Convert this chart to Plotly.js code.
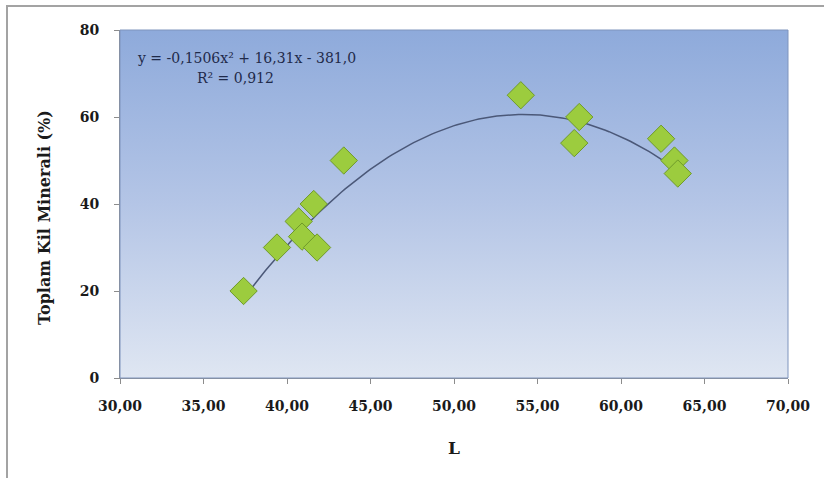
<!DOCTYPE html>
<html>
<head>
<meta charset="utf-8">
<script src="https://cdn.plot.ly/plotly-3.0.1.min.js"></script>
<style>
  html, body { margin: 0; padding: 0; background: #fff; }
  #wrap { position: relative; width: 824px; height: 478px; }
  #chart { width: 824px; height: 478px; }
  #frame { position: absolute; left: 6px; top: 5px; right: 0; bottom: 0;
           border-top: 2px solid #a3a3a3; border-left: 2px solid #a3a3a3; pointer-events: none; }
</style>
</head>
<body>
<div id="wrap">
  <div id="chart"></div>
  <div id="frame"></div>
</div>
<script>
// Data
const L_values = [37.4, 39.4, 40.7, 40.9, 41.8, 41.6, 43.4, 54.0, 57.5, 57.2, 62.4, 63.2, 63.4];
const kil_values = [20, 30, 36, 32.5, 30, 40, 50, 65, 60, 54, 55, 50, 47];
// Polynomial trendline shown on the chart: y = a*x^2 + b*x + c
const trendCoef = [-0.1506, 16.31, -381.0];
const trendLabel = 'y = -0,1506x² + 16,31x - 381,0';
const r2Label = 'R² = 0,912';
const xTicks = [30, 35, 40, 45, 50, 55, 60, 65, 70];
const yTicks = [0, 20, 40, 60, 80];
const xTitle = 'L';
const yTitle = 'Toplam Kil Minerali (%)';

// Trendline sampled over the data's x extent
const xmin = Math.min(...L_values), xmax = Math.max(...L_values);
const tx = [], ty = [];
for (let i = 0; i <= 120; i++) {
  const x = xmin + (xmax - xmin) * i / 120;
  tx.push(x);
  ty.push(trendCoef[0] * x * x + trendCoef[1] * x + trendCoef[2]);
}

const gradSvg = '<svg xmlns="http://www.w3.org/2000/svg" width="10" height="100" preserveAspectRatio="none">' +
  '<defs><linearGradient id="g" x1="0" y1="0" x2="0" y2="1">' +
  '<stop offset="0" stop-color="#8eaadb"/><stop offset="0.5" stop-color="#b4c5e6"/><stop offset="1" stop-color="#dfe6f2"/>' +
  '</linearGradient></defs><rect width="10" height="100" fill="url(#g)"/></svg>';
const gradUri = 'data:image/svg+xml;base64,' + btoa(gradSvg);

const serif = 'DejaVu Serif, serif';

const traces = [
  {
    x: tx, y: ty, type: 'scatter', mode: 'lines',
    line: { color: '#4b5878', width: 1.5 },
    hoverinfo: 'skip', showlegend: false
  },
  {
    x: L_values, y: kil_values, type: 'scatter', mode: 'markers',
    marker: { symbol: 'diamond', size: 21, color: '#9ccc3e', line: { color: '#6f9a2a', width: 1 } },
    showlegend: false
  }
];

const layout = {
  width: 824, height: 478,
  margin: { l: 120, r: 36, t: 30, b: 100 },
  paper_bgcolor: '#ffffff',
  plot_bgcolor: 'rgba(0,0,0,0)',
  separators: ',.',
  showlegend: false,
  images: [{
    source: gradUri, xref: 'paper', yref: 'paper', x: 0, y: 1,
    sizex: 1, sizey: 1, xanchor: 'left', yanchor: 'top', sizing: 'stretch', layer: 'below'
  }],
  shapes: [{
    type: 'rect', xref: 'paper', yref: 'paper', x0: 0, y0: 0, x1: 1, y1: 1,
    line: { color: '#7f94bd', width: 1 }, fillcolor: 'rgba(0,0,0,0)'
  }],
  xaxis: {
    range: [30, 70], tickvals: xTicks, tickformat: '.2f',
    showgrid: false, zeroline: false,
    showline: true, linecolor: '#8c8c8c', linewidth: 1,
    ticks: 'outside', ticklen: 5, tickcolor: '#8c8c8c',
    ticklabelstandoff: 10,
    tickfont: { family: serif, size: 14, color: '#1a1a1a', weight: 'bold' },
    title: { text: '<b>' + xTitle + '</b>', font: { family: serif, size: 17, color: '#1a1a1a' }, standoff: 29 }
  },
  yaxis: {
    range: [0, 80], tickvals: yTicks,
    showgrid: false, zeroline: false,
    showline: true, linecolor: '#8c8c8c', linewidth: 1,
    ticks: 'outside', ticklen: 5, tickcolor: '#8c8c8c',
    ticklabelstandoff: 12,
    tickfont: { family: serif, size: 14, color: '#1a1a1a', weight: 'bold' }
  },
  annotations: [
    {
      xref: 'paper', yref: 'paper', x: -0.112, y: 0.46, xanchor: 'center', yanchor: 'middle',
      text: '<b>' + yTitle + '</b>', textangle: -90, showarrow: false,
      font: { family: serif, size: 16, color: '#1a1a1a' }
    },
    {
      xref: 'paper', yref: 'paper', x: 0.022, y: 0.92, xanchor: 'left', yanchor: 'middle',
      text: trendLabel, showarrow: false,
      font: { family: serif, size: 14, color: '#1f2a4a' }
    },
    {
      xref: 'paper', yref: 'paper', x: 0.112, y: 0.862, xanchor: 'left', yanchor: 'middle',
      text: r2Label, showarrow: false,
      font: { family: serif, size: 14, color: '#1f2a4a' }
    }
  ]
};

Plotly.newPlot('chart', traces, layout, { displayModeBar: false, staticPlot: true });
</script>
</body>
</html>
